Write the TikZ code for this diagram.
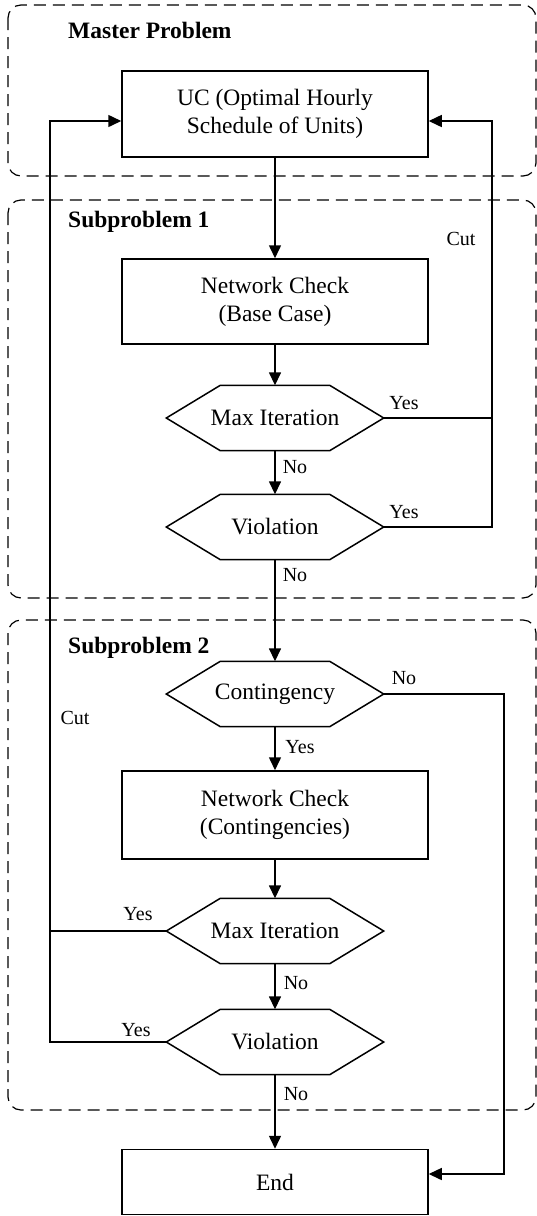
\documentclass[tikz,border=0pt]{standalone}
\usepackage{fontspec}
\setmainfont{Liberation Serif}
\usetikzlibrary{arrows.meta}
\newcommand\drawhex[1]{\draw[line width=1.5pt] (#1.west) -- ([xshift=54pt]#1.north west) -- ([xshift=-54pt]#1.north east) -- (#1.east) -- ([xshift=-54pt]#1.south east) -- ([xshift=54pt]#1.south west) -- cycle;}
\begin{document}
\begin{tikzpicture}[x=1pt,y=-1pt,
 box/.style={draw, line width=1.5pt, minimum width=306pt, minimum height=86pt, inner sep=0pt, align=center, font=\fontsize{23.5}{28}\selectfont},
 hexbox/.style={minimum width=217pt, minimum height=65pt, inner sep=0pt, font=\fontsize{23.5}{28}\selectfont},
 group/.style={draw, dash pattern=on 12pt off 7pt, line width=1.2pt, rounded corners=13pt},
 title/.style={anchor=west, inner sep=0pt, font=\bfseries\fontsize{23.5}{28}\selectfont},
 lbl/.style={font=\fontsize{20}{24}\selectfont, inner sep=0pt},
 flow/.style={line width=1.5pt, -{Triangle[length=13pt,width=12pt]}},
 conn/.style={line width=1.5pt},
]
\useasboundingbox (0,0) rectangle (537,1216);
% groups
\draw[group] (8,5) rectangle (536,176);
\draw[group] (8,200) rectangle (536,598);
\draw[group] (8,620) rectangle (536,1110);
\node[title] (tmaster) at (68,30) {Master Problem};
\node[title] (tsub1) at (68,222) {Subproblem 1};
\node[title] (tsub2) at (68,648) {Subproblem 2};
% nodes
\node[box] (uc) at (275,114) {UC (Optimal Hourly\\Schedule of Units)};
\node[box, minimum height=85pt] (nc1) at (275,301.5) {Network Check\\(Base Case)};
\node[hexbox] (mi1) at (275,418) {Max Iteration};
\node[hexbox] (v1) at (275,527) {Violation};
\node[hexbox] (c) at (275,694) {Contingency};
\node[box, minimum height=88pt] (nc2) at (275,815) {Network Check\\(Contingencies)};
\node[hexbox] (mi2) at (275,931) {Max Iteration};
\node[hexbox] (v2) at (275,1042) {Violation};
\node[box, minimum height=65pt] (end) at (275,1182) {End};
\drawhex{mi1}
\drawhex{v1}
\drawhex{c}
\drawhex{mi2}
\drawhex{v2}
% coordinates for loops
\coordinate (rx) at (492,0);
\coordinate (rx2) at (504,0);
\coordinate (lx) at (50,0);
\coordinate (ucR) at ([yshift=-7pt]uc.east);
\coordinate (ucL) at ([yshift=-7pt]uc.west);
\coordinate (endR) at ([yshift=8pt]end.east);
% main flow
\draw[flow] (uc) -- (nc1);
\draw[flow] (nc1) -- (mi1);
\draw[flow] (mi1) -- (v1);
\draw[flow] (v1) -- (c);
\draw[flow] (c) -- (nc2);
\draw[flow] (nc2) -- (mi2);
\draw[flow] (mi2) -- (v2);
\draw[flow] (v2) -- (end);
% right loop (subproblem 1)
\draw[conn] (mi1.east) -- (mi1.east -| rx);
\draw[flow] (v1.east) -- (v1.east -| rx) -- (rx |- ucR) -- (ucR);
% left loop (subproblem 2)
\draw[conn] (mi2.west) -- (mi2.west -| lx);
\draw[flow] (v2.west) -- (v2.west -| lx) -- (lx |- ucL) -- (ucL);
% contingency no
\draw[flow] (c.east) -- (c.east -| rx2) -- (rx2 |- endR) -- (endR);
% labels
\node[lbl] (lcut1) at (461,239) {Cut};
\node[lbl] (ly1) at (404,403) {Yes};
\node[lbl] (ln1) at (295,467) {No};
\node[lbl] (ly2) at (404,512) {Yes};
\node[lbl] (ln2) at (295,575) {No};
\node[lbl] (ln3) at (404,678) {No};
\node[lbl] (lcut2) at (75,718) {Cut};
\node[lbl] (ly3) at (300,747) {Yes};
\node[lbl] (ly4) at (138,914) {Yes};
\node[lbl] (ln4) at (296,983) {No};
\node[lbl] (ly5) at (136,1030) {Yes};
\node[lbl] (ln5) at (296,1094) {No};
\end{tikzpicture}
\end{document}
